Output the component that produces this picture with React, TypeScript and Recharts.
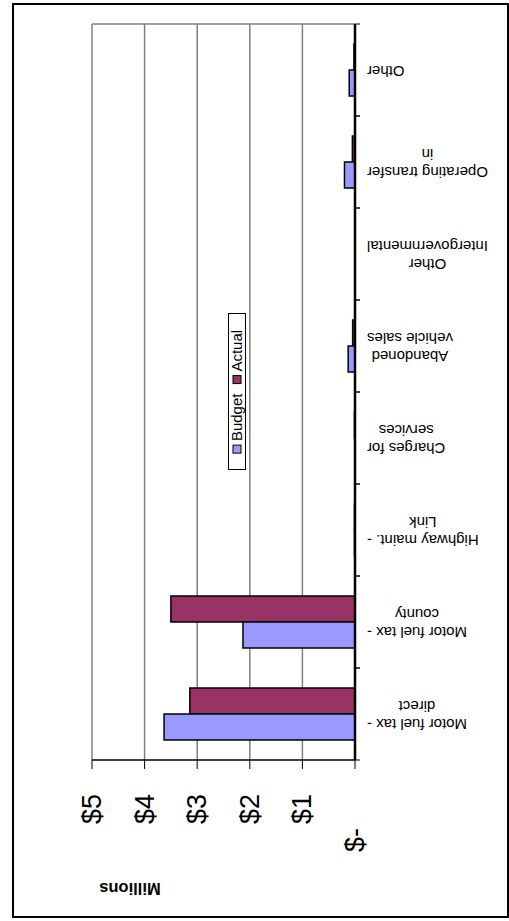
import React from "react";
import {
    BarChart,
    Bar,
    XAxis,
    YAxis,
    CartesianGrid,
    Legend,
    ReferenceLine,
} from "recharts";

const FONT = "'Liberation Sans', Arial, sans-serif";
const BUDGET_COLOR = "#9999FF";
const ACTUAL_COLOR = "#993366";

// categories, first one drawn at the bottom
const categoryLines = [
    ["Motor fuel tax -", "direct"],
    ["Motor fuel tax -", "county"],
    ["Highway maint. -", "Link"],
    ["Charges for", "services"],
    ["Abandoned", "vehicle sales"],
    ["Other", "Intergovernmental"],
    ["Operating transfer", "in"],
    ["Other"],
];
const categories = categoryLines.map((l) => l.join(" "));

// $ millions
const budget = [3.63, 2.13, 0.01, 0, 0.13, 0, 0.2, 0.11];
const actual = [3.14, 3.5, 0.01, 0.01, 0.045, 0, 0.05, 0.02];

const valueTicks = [0, 1, 2, 3, 4, 5];

const data = categories.map((c, i) => ({ category: c, budget: budget[i], actual: actual[i] }));

const W = 509;
const H = 921;
const MARGIN = { top: 24, right: 14, bottom: 61, left: 92 };
const X_AXIS_H = 100;
const PLOT_H = H - MARGIN.top - MARGIN.bottom - X_AXIS_H;
const CAT_MARGIN = 12;

let ctx: CanvasRenderingContext2D | null = null;
const textWidth = (s: string, font: string) => {
    if (!ctx) ctx = document.createElement("canvas").getContext("2d");
    if (!ctx) return s.length * 8;
    ctx.font = font;
    return ctx.measureText(s).width;
};

const CAT_FS = 15;
const CategoryTick = (props: any) => {
    const { x, y, payload } = props;
    const idx = categories.indexOf(payload.value);
    const lines = idx >= 0 ? categoryLines[idx] : [String(payload.value)];
    const font = `${CAT_FS}px ${FONT}`;
    const blockW = Math.max(...lines.map((l) => textWidth(l, font)));
    const cx = x + blockW / 2;
    const cy = y + 1.5;
    const lh = 18;
    const band = PLOT_H / categories.length;
    const ax = x - CAT_MARGIN;
    return (
        <g>
            <line x1={ax} x2={ax + 5} y1={y - band / 2} y2={y - band / 2} stroke="#000" strokeWidth={1} />
            <line x1={ax} x2={ax + 5} y1={y + band / 2} y2={y + band / 2} stroke="#000" strokeWidth={1} />
            <g transform={`translate(${cx},${cy}) rotate(180)`}>
                {lines.map((l, i) => (
                    <text
                        key={i}
                        x={0}
                        y={(i - (lines.length - 1) / 2) * lh}
                        textAnchor="middle"
                        dominantBaseline="central"
                        fontSize={CAT_FS}
                        fontFamily={FONT}
                        fill="#000"
                    >
                        {l}
                    </text>
                ))}
            </g>
        </g>
    );
};

const ValueTick = (props: any) => {
    const { x, y, payload } = props;
    const v = payload.value;
    const label = v === 0 ? "$-" : `$${v}`;
    const cy = v === 0 ? y + 71 : y + 40;
    return (
        <text
            transform={`translate(${x + 9},${cy}) rotate(-90)`}
            textAnchor="middle"
            fontSize={27}
            fontFamily={FONT}
            fill="#000"
        >
            {label}
        </text>
    );
};

const MillionsLabel = (props: any) => {
    const vb = props.viewBox || { x: 92, y: 760 };
    return (
        <text
            transform={`translate(${vb.x + 38},${vb.y + 129}) rotate(180)`}
            textAnchor="middle"
            dominantBaseline="central"
            fontSize={16.5}
            fontWeight="bold"
            fontFamily={FONT}
            fill="#000"
        >
            Millions
        </text>
    );
};

const LegendBox = () => {
    const w = 18;
    const h = 157;
    const fs = 15;
    const font = `${fs}px ${FONT}`;
    const items = [
        { name: "Budget", color: BUDGET_COLOR },
        { name: "Actual", color: ACTUAL_COLOR },
    ];
    const sw = 8;
    const gapSw = 4;
    const gapItem = 10;
    const widths = items.map((it) => textWidth(it.name, font));
    const total = items.reduce((s, _it, i) => s + sw + gapSw + widths[i], 0) + gapItem * (items.length - 1);
    let cur = h / 2 + total / 2;
    const cx = w / 2;
    const nodes: React.ReactNode[] = [];
    items.forEach((it, i) => {
        nodes.push(
            <rect key={`s${i}`} x={cx - sw / 2} y={cur - sw} width={sw} height={sw} fill={it.color} stroke="#000" />
        );
        cur -= sw + gapSw;
        nodes.push(
            <text
                key={`t${i}`}
                transform={`translate(${cx + fs * 0.36},${cur}) rotate(-90)`}
                fontSize={fs}
                fontFamily={FONT}
                fill="#000"
            >
                {it.name}
            </text>
        );
        cur -= widths[i] + gapItem;
    });
    return (
        <svg width={w} height={h} style={{ display: "block" }}>
            <rect x={0.5} y={0.5} width={w - 1} height={h - 1} fill="#fff" stroke="#000" />
            {nodes}
        </svg>
    );
};

export default function App() {
    return (
        <div style={{ position: "absolute", left: 0, top: 0, width: W, height: H, background: "#fff" }}>
            <BarChart
                width={W}
                height={H}
                data={data}
                layout="vertical"
                margin={MARGIN}
                barCategoryGap="21.7%"
                barGap={0}
            >
                <CartesianGrid
                    stroke="#808080"
                    strokeWidth={1.5}
                    horizontalCoordinatesGenerator={({ offset }: any) => [offset.top]}
                />
                <XAxis
                    type="number"
                    domain={[0, 5]}
                    ticks={valueTicks}
                    reversed
                    height={X_AXIS_H}
                    tickSize={9}
                    tickMargin={0}
                    axisLine={{ stroke: "#000", strokeWidth: 1.5 }}
                    tickLine={{ stroke: "#000", strokeWidth: 1 }}
                    tick={<ValueTick />}
                    interval={0}
                    label={<MillionsLabel />}
                />
                <YAxis
                    orientation="right"
                    type="category"
                    dataKey="category"
                    reversed
                    width={140}
                    axisLine={false}
                    tickLine={false}
                    tickSize={0}
                    tickMargin={CAT_MARGIN}
                    tick={<CategoryTick />}
                    interval={0}
                />
                <Legend
                    layout="horizontal"
                    verticalAlign="middle"
                    align="center"
                    content={() => <LegendBox />}
                    wrapperStyle={{ position: "absolute", left: 228, top: 313, width: 18, height: 157 }}
                />
                <Bar
                    dataKey="actual"
                    name="Actual"
                    fill={ACTUAL_COLOR}
                    stroke="#000"
                    strokeWidth={1.5}
                    isAnimationActive={false}
                />
                <Bar
                    dataKey="budget"
                    name="Budget"
                    fill={BUDGET_COLOR}
                    stroke="#000"
                    strokeWidth={1.5}
                    isAnimationActive={false}
                />
                <ReferenceLine x={0} stroke="#000" strokeWidth={2.5} />
            </BarChart>
            <div
                style={{
                    position: "absolute",
                    left: 12,
                    top: 3,
                    width: 497,
                    height: 915,
                    border: "2px solid #000",
                    boxSizing: "border-box",
                    pointerEvents: "none",
                }}
            />
        </div>
    );
}
